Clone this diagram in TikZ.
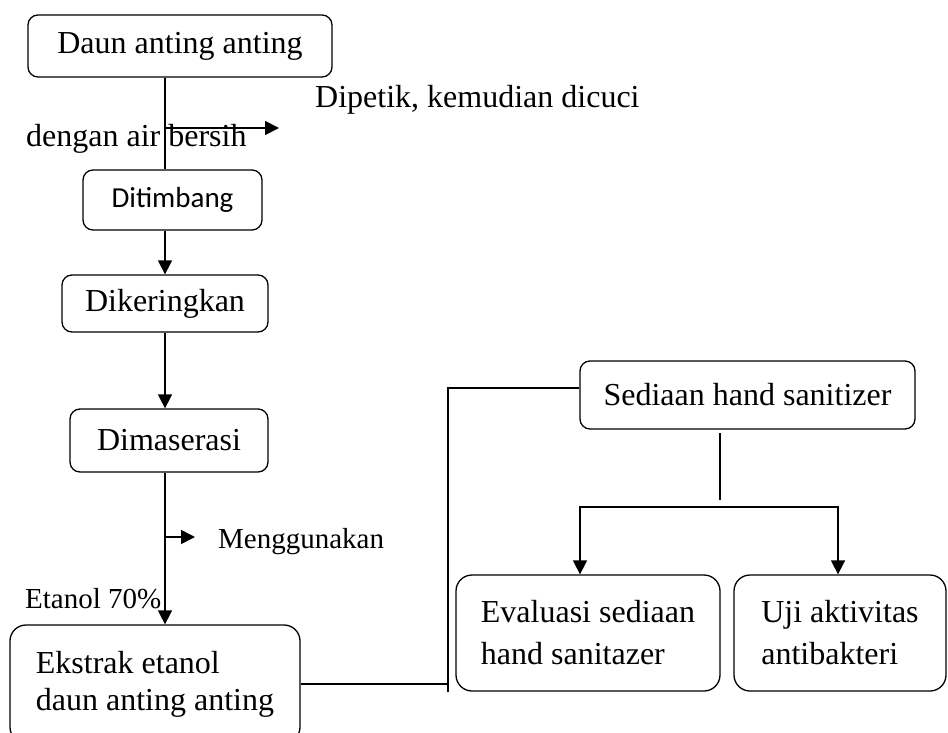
\documentclass[tikz,border=0pt]{standalone}
\usepackage{fontspec}
\setmainfont{Liberation Serif}
\newfontfamily\carlito{Carlito}
\usetikzlibrary{arrows.meta}
\tikzstyle{kotak}=[draw, rounded corners=10pt, line width=1.3pt, inner sep=0, font=\fontsize{32}{37}\selectfont]
\tikzstyle{ket}=[anchor=base west, inner sep=0, font=\fontsize{32}{37}\selectfont]
\tikzstyle{panah}=[line width=1.6pt, -{Triangle[length=14pt,width=14pt]}]
\tikzstyle{tipis}=[line width=1.3pt]

\begin{document}
\begin{tikzpicture}[x=1pt, y=-1pt]
\useasboundingbox (0,0) rectangle (948,733);
% kolom kiri
\node at (180,46)[kotak, minimum width=304, minimum height=62](daun){Daun anting anting};
\node at (172.5,200)[kotak, minimum width=179, minimum height=60, font=\carlito\fontsize{29}{35}\selectfont](timbang){Ditimbang};
\node at (165,303.5)[kotak, minimum width=206, minimum height=57](kering){Dikeringkan};
\node at (169,440.5)[kotak, minimum width=198, minimum height=63](maserasi){Dimaserasi};
\node at (155,684)[kotak, rounded corners=16pt, minimum width=290, minimum height=118, align=left](ekstrak){Ekstrak etanol\\daun anting anting};
% kolom kanan
\node at (747.5,395)[kotak, minimum width=335, minimum height=68](sediaan){Sediaan hand sanitizer};
\node at (588,633)[kotak, rounded corners=16pt, minimum width=264, minimum height=116, align=left, font=\fontsize{32}{42}\selectfont](evaluasi){Evaluasi sediaan\\hand sanitazer};
\node at (840,633)[kotak, rounded corners=16pt, minimum width=212, minimum height=116, align=left, font=\fontsize{32}{42}\selectfont](uji){Uji aktivitas\\antibakteri};
% keterangan
\node at (315,108)[ket](k1){Dipetik, kemudian dicuci};
\node at (26,147)[ket](k2){dengan air bersih};
\node at (218,548)[ket, font=\fontsize{29}{35}\selectfont](k3){Menggunakan};
\node at (25,608)[ket, font=\fontsize{29}{35}\selectfont](k4){Etanol 70\%};
% alur utama
\coordinate (ax) at (165,0);
\draw[tipis, line width=1.6pt] (ax |- daun.south) -- (ax |- timbang.north);
\draw[panah] (ax |- timbang.south) -- (ax |- kering.north);
\draw[panah] (ax |- kering.south) -- (ax |- maserasi.north);
\draw[panah] (ax |- maserasi.south) -- (ax |- ekstrak.north);
\coordinate (c1) at (165,128); \coordinate (c1e) at (279,128);
\draw[panah] (c1) -- (c1e);
\coordinate (c2) at (165,537); \coordinate (c2e) at (195,537);
\draw[panah] (c2) -- (c2e);
% sambungan ke sediaan
\coordinate (j1) at (448,684); \coordinate (j2) at (448,388); \coordinate (j3) at (448,692);
\draw[tipis] (ekstrak.east |- j1) -- (j1);
\draw[tipis] (j3) -- (j2) -- (j2 -| sediaan.west);
\coordinate (t1) at (720,433); \coordinate (t2) at (720,500);
\draw[tipis] (t1) -- (t2);
\coordinate (sl) at (580,507); \coordinate (sr) at (838,507);
\draw[panah, {Triangle[length=14pt,width=14pt]}-{Triangle[length=14pt,width=14pt]}] (evaluasi.north -| sl) -- (sl) -- (sr) -- (uji.north -| sr);
\end{tikzpicture}
\end{document}
